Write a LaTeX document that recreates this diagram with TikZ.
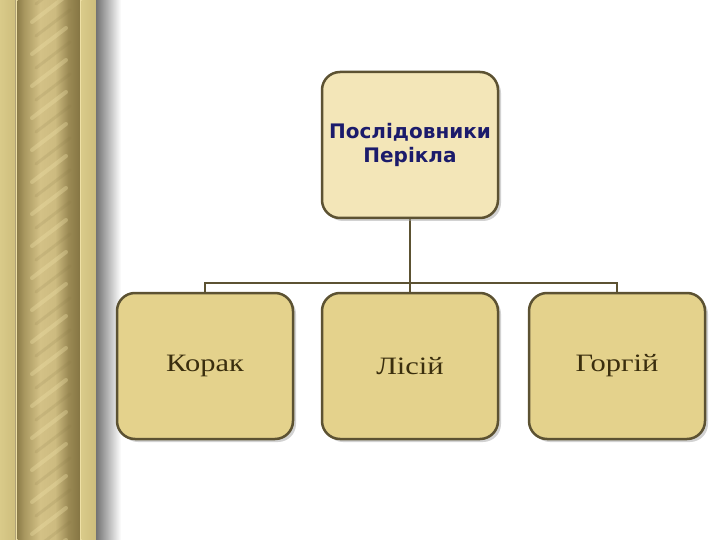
\documentclass[tikz,border=0pt]{standalone}
\usepackage{fontspec}
\setmainfont{Liberation Serif}
\newfontfamily\headfont{DejaVu Sans}
\newfontfamily\boxfont[FakeStretch=1.22]{Liberation Serif}
\usetikzlibrary{shadows,backgrounds}
\definecolor{edgec}{HTML}{5C5232}
\definecolor{topfill}{HTML}{F3E6B8}
\definecolor{botfill}{HTML}{E4D28C}
\definecolor{headc}{HTML}{1B1B6B}
\definecolor{bodyc}{HTML}{3A2E0E}
\definecolor{g1}{HTML}{8E7E4A}
\definecolor{g2}{HTML}{A8975F}
\definecolor{g3}{HTML}{D3C186}
\definecolor{g4}{HTML}{CDBB80}
\definecolor{g5}{HTML}{9C8B55}
\definecolor{g6}{HTML}{857543}
\definecolor{g7}{HTML}{D9CA89}
\definecolor{g8}{HTML}{CDBD7C}
\definecolor{glight}{HTML}{EEE0A6}
\tikzset{
  orgbox/.style={draw=edgec, line width=2.5pt, rounded corners=18pt,
    minimum width=176pt, minimum height=146pt, inner sep=2pt, align=center,
    drop shadow={shadow xshift=3pt, shadow yshift=-3pt, fill=black!35, opacity=0.5}},
  topbox/.style={orgbox, fill=topfill, text=headc,
    font=\headfont\bfseries\fontsize{20}{24}\selectfont},
  botbox/.style={orgbox, fill=botfill, text=bodyc,
    font=\boxfont\fontsize{25}{30}\selectfont},
  link/.style={draw=edgec, line width=2pt}
}
\begin{document}
\begin{tikzpicture}[x=1pt,y=-1pt]
\useasboundingbox (0,0) rectangle (720,540);
% left decorative strip
\shade[left color=g7, right color=g8] (0,0) rectangle (16,540);
\fill[g5!80] (15,0) rectangle (16,540);
\fill[glight] (16,0) rectangle (17.5,540);
\shade[left color=g1, right color=g2] (17.5,0) rectangle (24,540);
\shade[left color=g2, right color=g3] (24,0) rectangle (40,540);
\shade[left color=g3, right color=g4] (40,0) rectangle (55,540);
\shade[left color=g4, right color=g5] (55,0) rectangle (68,540);
\shade[left color=g5, right color=g6] (68,0) rectangle (80,540);
\fill[glight] (80,0) rectangle (81.5,540);
\shade[left color=g7, right color=g8] (81.5,0) rectangle (96,540);
\shade[left color=black!55, right color=white] (96,0) rectangle (121,540);
\begin{scope}
  \clip (24,0) rectangle (74,540);
  \foreach \yy in {-32,0,...,576} {
    \draw[glight, line width=4pt, opacity=0.35, line cap=round]
      (32,\yy+22) -- (66,\yy-4);
    \draw[g6, line width=3pt, opacity=0.15, line cap=round]
      (36,\yy+36) -- (70,\yy+10);
  }
\end{scope}
% boxes
\node[topbox] (top) at (410,145) {Послідовники\\Перікла};
\node[botbox] (b1) at (205,366) {Корак};
\node[botbox] (b2) at (410,366) {Лісій};
\node[botbox] (b3) at (617,366) {Горгій};
\coordinate (j) at (410,283);
\begin{scope}[on background layer]
  \draw[link] (top.south) -- (j);
  \draw[link, line width=1.6pt] (b1.north) |- (j);
  \draw[link, line width=1.6pt] (b3.north) |- (j);
  \draw[link, line width=1.6pt] (b2.north) -- (j);
\end{scope}
\end{tikzpicture}
\end{document}
